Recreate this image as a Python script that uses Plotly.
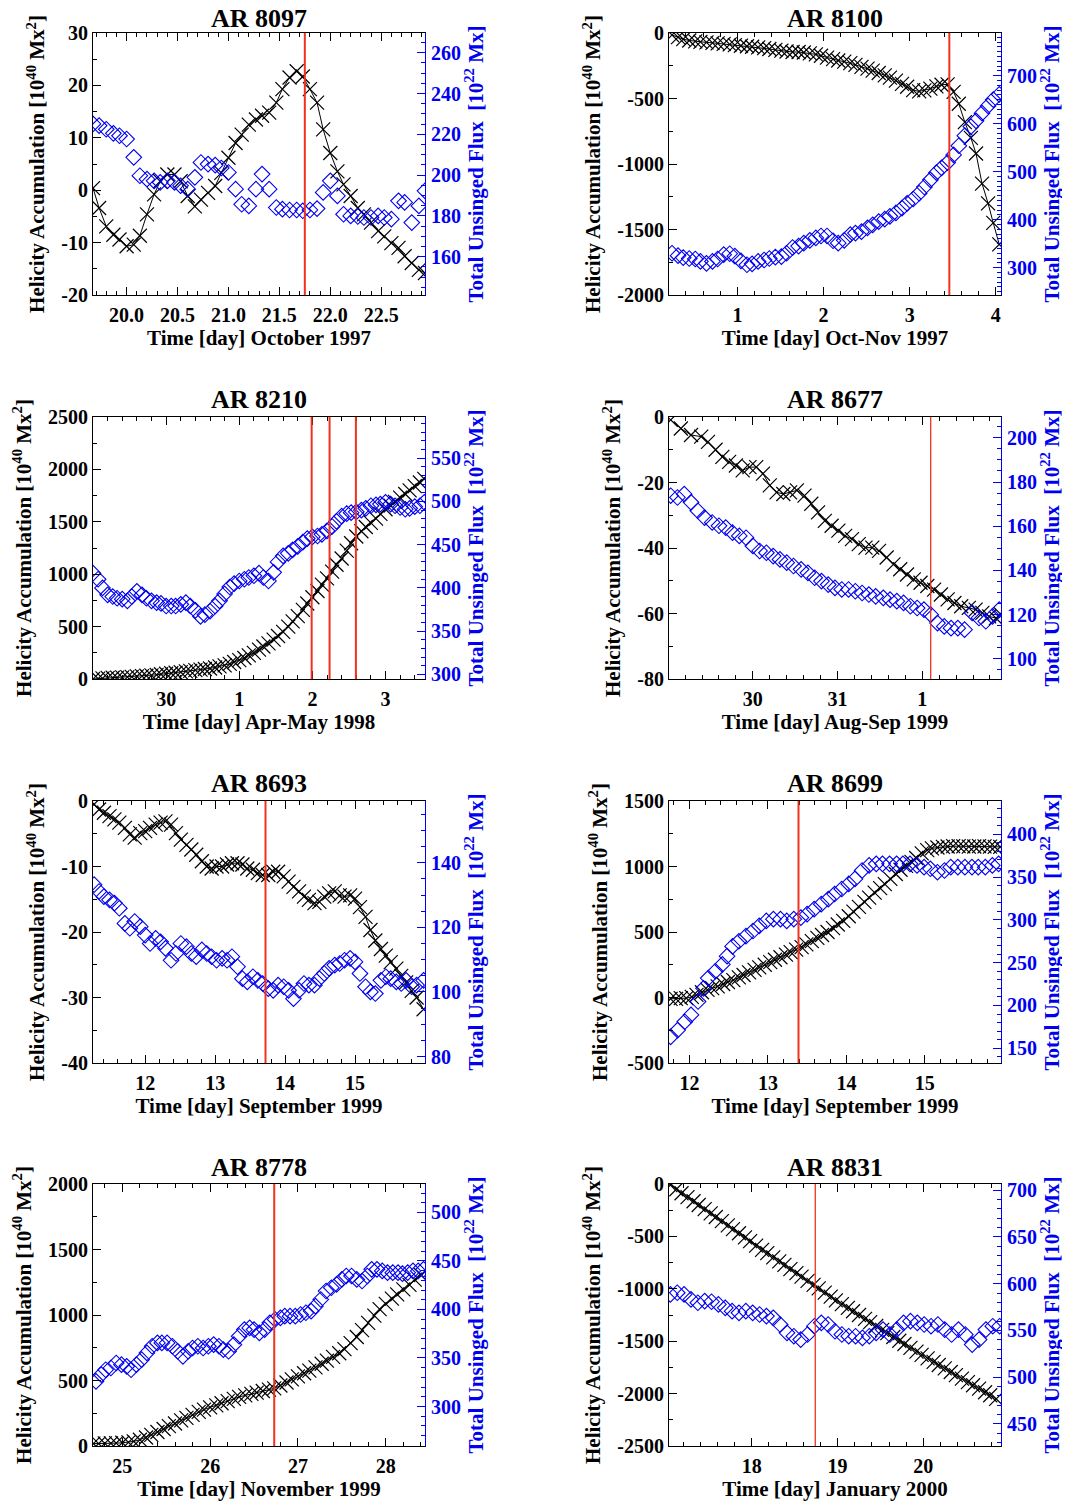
import plotly.graph_objects as go

# ---------------- data ----------------
# AR 8097  (October 1997)
t_8097 = [19.67, 19.73, 19.80, 19.87, 19.93,
          20.00, 20.07, 20.13, 20.20, 20.27, 20.33, 20.40, 20.47, 20.53, 20.60, 20.67, 20.73, 20.80, 20.87, 20.93,
          21.00, 21.07, 21.13, 21.20, 21.27, 21.33, 21.40, 21.47, 21.53, 21.60, 21.67, 21.73, 21.80, 21.87, 21.93,
          22.00, 22.07, 22.13, 22.20, 22.27, 22.33, 22.40, 22.47, 22.53, 22.60, 22.67, 22.73, 22.80, 22.87, 22.93]
h_8097 = [0.4, -3.4, -6.9, -8.5, -9.4,
          -10.7, -10.4, -8.7, -4.6, -0.8, 1.7, 3.0, 3.0, 1.7, -1.1, -3.1, -1.8, -0.5, 0.8, 3.3,
          6.2, 9.0, 10.6, 12.5, 13.5, 14.2, 14.8, 16.7, 19.3, 21.5, 22.7, 21.7, 19.3, 16.7, 11.6,
          7.1, 3.6, 1.1, -1.1, -3.4, -4.6, -6.2, -7.8, -8.8, -10.1, -11.0, -12.6, -13.9, -15.2, -15.8]
f_8097 = [225.1, 224.3, 222.5, 220.5, 219.3,
          217.7, 208.7, 199.7, 198.0, 197.2, 196.4, 197.2, 196.4, 194.8, 193.1, 198.9, 206.2, 205.4, 204.9, 203.5,
          201.3, 193.1, 185.7, 184.9, 193.1, 200.5, 193.1, 184.1, 183.3, 182.9, 182.9, 182.5, 182.9, 183.6, 191.5,
          197.2, 189.8, 180.8, 180.0, 179.7, 179.2, 179.2, 180.0, 179.2, 178.4, 187.4, 186.6, 176.7, 184.9, 192.3]
cme_8097 = [21.75]

# AR 8100  (Oct-Nov 1997)
t_8100 = [0.24, 0.31, 0.37, 0.44, 0.51, 0.57, 0.64, 0.71, 0.77, 0.84, 0.91, 0.97,
          1.04, 1.11, 1.17, 1.24, 1.31, 1.37, 1.44, 1.51, 1.57, 1.64, 1.71, 1.77, 1.84, 1.91, 1.97,
          2.04, 2.11, 2.17, 2.24, 2.31, 2.37, 2.44, 2.51, 2.57, 2.64, 2.71, 2.77, 2.84, 2.91, 2.97,
          3.04, 3.11, 3.17, 3.24, 3.31, 3.37, 3.44, 3.51, 3.57, 3.64, 3.71, 3.77, 3.84, 3.91, 3.97,
          4.04]
h_8100 = [-15, -32, -47, -57, -64, -68, -72, -75, -79, -83, -87, -92,
          -97, -101, -105, -110, -116, -122, -129, -135, -141, -145, -145, -149, -155, -163, -174,
          -188, -200, -210, -219, -230, -243, -258, -272, -287, -305, -323, -341, -363, -388, -410,
          -436, -446, -438, -425, -408, -395, -392, -450, -540, -680, -800, -920, -1150, -1300, -1450,
          -1614]
f_8100 = [330, 325, 321, 319, 318, 313, 309, 313, 318, 327, 329, 324,
          314, 306, 308, 313, 316, 319, 322, 323, 330, 342, 345, 351, 357, 362, 366,
          366, 356, 351, 357, 369, 372, 375, 383, 389, 396, 401, 407, 414, 424, 434,
          443, 455, 468, 483, 498, 508, 519, 535, 554, 575, 594, 606, 622, 637, 650,
          661]
cme_8100 = [3.46]

# AR 8210  (Apr-May 1998; 31 = May 1)
t_8210 = [29.00, 29.07, 29.13, 29.20, 29.27, 29.33, 29.40, 29.47, 29.53, 29.60, 29.67, 29.73, 29.80, 29.87, 29.93,
          30.00, 30.07, 30.13, 30.20, 30.27, 30.33, 30.40, 30.47, 30.53, 30.60, 30.67, 30.73, 30.80, 30.87, 30.93,
          31.00, 31.07, 31.13, 31.20, 31.27, 31.33, 31.40, 31.47, 31.53, 31.60, 31.67, 31.73, 31.80, 31.87, 31.93,
          32.00, 32.07, 32.13, 32.20, 32.27, 32.33, 32.40, 32.47, 32.53, 32.60, 32.67, 32.73, 32.80, 32.87, 32.93,
          33.00, 33.07, 33.13, 33.20, 33.27, 33.33, 33.40, 33.47, 33.53]
h_8210 = [0, 3, 6, 10, 12, 13, 15, 18, 21, 25, 28, 31, 35, 40, 45,
          50, 55, 60, 65, 72, 78, 85, 90, 95, 100, 110, 120, 130, 145, 162,
          180, 200, 225, 250, 280, 310, 340, 375, 410, 450, 500, 550, 600, 660, 720,
          780, 840, 900, 960, 1025, 1090, 1150, 1225, 1295, 1360, 1410, 1450, 1490, 1530, 1575,
          1620, 1655, 1690, 1730, 1765, 1800, 1840, 1875, 1910]
f_8210 = [417, 410, 400, 392, 390, 388, 387, 385, 390, 396, 392, 388, 385, 383, 382,
          379, 379, 379, 381, 383, 379, 374, 367, 369, 373, 379, 385, 393, 401, 405,
          408, 410, 412, 414, 417, 412, 408, 418, 430, 437, 440, 444, 448, 453, 457,
          459, 460, 462, 466, 471, 477, 483, 486, 487, 488, 490, 492, 495, 496, 497,
          499, 497, 495, 493, 491, 492, 494, 495, 499]
cme_8210 = [31.99, 32.235, 32.595]

# AR 8677  (Aug-Sep 1999; 32 = Sep 1)
th_8677 = [29.03, 29.15, 29.27, 29.39, 29.47, 29.56, 29.64, 29.72, 29.80, 29.88, 29.96, 30.04, 30.12, 30.20,
           30.28, 30.36, 30.44, 30.52, 30.61, 30.69, 30.77, 30.85, 30.93, 31.01, 31.09, 31.17, 31.25, 31.33,
           31.41, 31.49, 31.58, 31.66, 31.74, 31.82, 31.90, 31.98, 32.06, 32.14, 32.22, 32.30, 32.38, 32.46,
           32.55, 32.63, 32.71, 32.79, 32.87, 32.93]
h_8677 = [-0.9, -3.5, -5.5, -6.0, -7.6, -10.0, -12.2, -13.7, -14.8, -16.3, -15.3, -15.3, -17.3, -20.9,
          -23.0, -23.5, -23.0, -22.4, -24.0, -26.5, -29.1, -31.7, -33.2, -34.7, -36.3, -37.3, -38.8, -39.9,
          -39.9, -40.9, -42.9, -45.0, -46.5, -48.1, -49.6, -50.6, -51.6, -52.7, -54.2, -55.7, -56.8, -57.8,
          -58.3, -58.8, -59.8, -60.9, -61.4, -60.3]
tf_8677 = [29.03, 29.11, 29.19, 29.27, 29.35, 29.43, 29.52, 29.60, 29.68, 29.76, 29.84, 29.92, 30.00,
           30.08, 30.16, 30.24, 30.32, 30.40, 30.48, 30.57, 30.65, 30.73, 30.81, 30.89, 30.97, 31.05,
           31.13, 31.21, 31.29, 31.37, 31.45, 31.54, 31.62, 31.70, 31.78, 31.86, 31.94, 32.02, 32.10,
           32.18, 32.26, 32.34, 32.42, 32.50, 32.59, 32.67, 32.75, 32.83, 32.91]
f_8677 = [173.8, 173.0, 174.5, 170.8, 167.0, 163.9, 161.7, 160.2, 159.4, 157.1, 155.6, 154.8, 151.1,
          148.8, 148.0, 146.5, 145.0, 143.5, 142.0, 140.5, 138.9, 136.7, 135.2, 133.6, 132.1, 131.4,
          131.4, 130.6, 129.8, 129.1, 128.3, 127.6, 126.8, 126.1, 125.3, 123.8, 123.0, 122.3, 120.0,
          116.2, 114.7, 113.9, 113.9, 113.2, 120.8, 118.5, 117.0, 119.2, 122.3]
cme_8677 = [32.10]

# AR 8693  (September 1999)
t_8693 = [11.27, 11.34, 11.41, 11.49, 11.56, 11.63, 11.71, 11.78, 11.85, 11.93,
          12.00, 12.07, 12.15, 12.22, 12.29, 12.37, 12.44, 12.51, 12.59, 12.66,
          12.73, 12.81, 12.88, 12.95, 13.02, 13.10, 13.17, 13.24, 13.32, 13.39,
          13.46, 13.54, 13.61, 13.68, 13.76, 13.83, 13.90, 13.98, 14.05, 14.12,
          14.20, 14.27, 14.34, 14.42, 14.49, 14.56, 14.63, 14.71, 14.78, 14.85,
          14.93, 15.00, 15.07, 15.15, 15.22, 15.29, 15.37, 15.44, 15.51, 15.59,
          15.66, 15.73, 15.81, 15.88, 15.98]
h_8693 = [-0.5, -1.3, -1.8, -2.3, -2.8, -3.3, -4.1, -5.1, -5.6, -4.9,
          -4.6, -4.1, -3.6, -3.3, -3.1, -3.6, -4.9, -5.9, -6.7, -7.4,
          -8.2, -9.2, -10.0, -10.3, -10.0, -10.0, -9.7, -9.5, -9.5, -9.7,
          -10.3, -10.5, -11.0, -11.3, -11.3, -10.8, -10.8, -11.5, -12.3, -13.1,
          -13.8, -14.6, -15.1, -15.6, -15.4, -14.6, -14.1, -13.8, -14.4, -14.6,
          -14.4, -14.9, -16.2, -17.7, -19.7, -21.3, -22.6, -23.6, -24.6, -25.6,
          -26.7, -27.7, -29.0, -30.0, -31.8]
f_8693 = [133.2, 131.1, 129.5, 128.5, 127.5, 125.9, 121.2, 119.7, 121.8, 120.2,
          117.6, 115.0, 116.6, 115.5, 113.5, 109.8, 111.9, 115.0, 114.0, 111.9,
          110.9, 113.0, 111.9, 110.9, 109.8, 110.4, 109.8, 110.9, 107.8, 104.1,
          103.1, 104.7, 103.6, 102.6, 101.0, 100.5, 102.1, 101.6, 100.5, 97.9,
          100.5, 102.6, 102.1, 102.1, 104.1, 105.7, 107.3, 108.3, 108.8, 109.8,
          110.4, 109.3, 105.7, 101.6, 100.0, 99.5, 103.6, 104.7, 104.1, 103.1,
          102.6, 103.6, 101.6, 102.1, 103.6]
cme_8693 = [13.72]

# AR 8699  (September 1999)
th_8699 = [11.76, 11.83, 11.89, 11.96,
           12.03, 12.09, 12.16, 12.23, 12.29, 12.36, 12.43, 12.49, 12.56, 12.63, 12.69, 12.76, 12.83, 12.89, 12.96,
           13.03, 13.09, 13.16, 13.23, 13.29, 13.36, 13.43, 13.49, 13.56, 13.63, 13.69, 13.76, 13.83, 13.89, 13.96,
           14.03, 14.09, 14.16, 14.23, 14.29, 14.36, 14.43, 14.49, 14.56, 14.63, 14.69, 14.76, 14.83, 14.89, 14.96,
           15.03, 15.09, 15.16, 15.23, 15.29, 15.36, 15.43, 15.49, 15.56, 15.63, 15.69, 15.76, 15.83, 15.89, 15.96]
h_8699 = [-10, -10, -5, -5,
          5, 20, 40, 58, 72, 85, 103, 118, 133, 154, 172, 192, 211, 230, 250,
          270, 288, 307, 327, 346, 365, 385, 405, 430, 455, 477, 500, 530, 557, 585,
          620, 655, 692, 730, 763, 800, 835, 865, 905, 943, 975, 1005, 1035, 1065, 1100,
          1125, 1138, 1145, 1150, 1153, 1155, 1155, 1154, 1152, 1153, 1155, 1154, 1152, 1150, 1150]
tf_8699 = [11.76, 11.85, 11.94, 12.02, 12.11, 12.18, 12.24, 12.33, 12.42, 12.48,
           12.55, 12.63, 12.72, 12.81, 12.89, 12.98, 13.07, 13.16, 13.24, 13.33,
           13.42, 13.50, 13.59, 13.68, 13.77, 13.85, 13.94, 14.03, 14.11, 14.20,
           14.29, 14.38, 14.46, 14.55, 14.64, 14.72, 14.81, 14.90, 14.99, 15.07,
           15.16, 15.25, 15.33, 15.42, 15.51, 15.60, 15.68, 15.77, 15.86, 15.94]
f_8699 = [163.4, 171.3, 181.0, 189.0, 204.6, 220.0, 232.0, 240.0, 248.0, 257.6,
          269.0, 275.0, 281.0, 287.0, 293.0, 298.8, 300.8, 300.8, 298.8, 300.8,
          302.7, 306.7, 312.6, 318.4, 324.3, 330.2, 336.1, 342.0, 347.9, 357.7,
          363.6, 365.5, 365.5, 365.5, 365.5, 365.5, 365.5, 363.6, 361.6, 359.7,
          355.7, 357.7, 361.6, 361.6, 361.6, 361.6, 361.6, 361.6, 363.6, 365.5]
cme_8699 = [13.39]

# AR 8778  (November 1999)
th_8778 = [24.67, 24.73, 24.80, 24.87, 24.93,
           25.00, 25.07, 25.13, 25.20, 25.27, 25.33, 25.40, 25.47, 25.53, 25.60, 25.67, 25.73, 25.80, 25.87, 25.93,
           26.00, 26.07, 26.13, 26.20, 26.27, 26.33, 26.40, 26.47, 26.53, 26.60, 26.67, 26.73, 26.80, 26.87, 26.93,
           27.00, 27.07, 27.13, 27.20, 27.27, 27.33, 27.40, 27.47, 27.53, 27.60, 27.67, 27.73, 27.80, 27.87, 27.93,
           28.00, 28.07, 28.13, 28.20, 28.27, 28.33, 28.40]
h_8778 = [18, 18, 20, 20, 22,
          25, 28, 35, 48, 65, 85, 107, 130, 152, 172, 195, 215, 238, 260, 278,
          295, 310, 326, 343, 360, 375, 386, 398, 408, 420, 430, 440, 462, 485, 508,
          532, 555, 575, 600, 628, 652, 680, 708, 740, 785, 832, 885, 940, 995, 1045,
          1085, 1125, 1158, 1195, 1230, 1270, 1305]
tf_8778 = [24.70, 24.76, 24.81, 24.87, 24.93, 24.99, 25.05, 25.10, 25.16, 25.22,
           25.28, 25.34, 25.40, 25.45, 25.51, 25.57, 25.63, 25.69, 25.75, 25.80,
           25.86, 25.92, 25.98, 26.04, 26.10, 26.15, 26.21, 26.27, 26.33, 26.39,
           26.45, 26.50, 26.56, 26.62, 26.68, 26.74, 26.80, 26.85, 26.91, 26.97,
           27.03, 27.09, 27.15, 27.20, 27.26, 27.32, 27.38, 27.44, 27.50, 27.55,
           27.61, 27.67, 27.73, 27.79, 27.84, 27.90, 27.96, 28.02, 28.08, 28.14,
           28.19, 28.25, 28.31, 28.37, 28.43]
f_8778 = [325.9, 332.8, 337.9, 339.7, 344.8, 343.1, 341.4, 337.9, 343.1, 348.3,
          355.2, 362.1, 365.5, 365.5, 365.5, 362.1, 356.9, 351.7, 356.9, 360.3,
          362.1, 360.3, 362.1, 363.8, 362.1, 358.6, 356.9, 363.8, 372.4, 379.3,
          381.0, 379.3, 375.9, 379.3, 386.2, 389.7, 391.4, 393.1, 393.1, 393.1,
          394.8, 396.6, 398.3, 403.4, 410.3, 419.0, 422.4, 425.9, 431.0, 434.5,
          434.5, 431.0, 429.3, 434.5, 441.4, 441.4, 439.7, 437.9, 437.9, 437.9,
          436.9, 437.9, 439.7, 439.7, 441.4]
cme_8778 = [26.73]

# AR 8831  (January 2000)
th_8831 = [17.05, 17.12, 17.18, 17.25, 17.32, 17.38, 17.45, 17.52, 17.58, 17.65, 17.72, 17.78, 17.85, 17.92, 17.98,
           18.05, 18.12, 18.18, 18.25, 18.32, 18.38, 18.45, 18.52, 18.58, 18.65, 18.72, 18.78, 18.85, 18.92, 18.98,
           19.05, 19.12, 19.18, 19.25, 19.32, 19.38, 19.45, 19.52, 19.58, 19.65, 19.72, 19.78, 19.85, 19.92, 19.98,
           20.05, 20.12, 20.18, 20.25, 20.32, 20.38, 20.45, 20.52, 20.58, 20.65, 20.72, 20.78, 20.85]
h_8831 = [-10, -50, -88, -125, -165, -200, -240, -280, -315, -355, -395, -430, -470, -510, -545,
          -588, -628, -660, -700, -738, -772, -812, -850, -884, -924, -962, -996, -1036, -1075, -1110,
          -1146, -1182, -1214, -1250, -1287, -1318, -1355, -1392, -1423, -1460, -1496, -1527, -1563, -1600, -1630,
          -1664, -1698, -1727, -1760, -1794, -1823, -1857, -1890, -1920, -1953, -1987, -2016, -2050]
tf_8831 = [17.05, 17.13, 17.21, 17.29, 17.37, 17.45, 17.53, 17.61, 17.69, 17.77,
           17.85, 17.93, 18.01, 18.09, 18.17, 18.25, 18.33, 18.41, 18.49, 18.57,
           18.65, 18.73, 18.81, 18.89, 18.97, 19.05, 19.13, 19.21, 19.29, 19.37,
           19.45, 19.53, 19.61, 19.69, 19.77, 19.85, 19.93, 20.01, 20.09, 20.17,
           20.25, 20.33, 20.41, 20.49, 20.57, 20.65, 20.73, 20.81, 20.89]
f_8831 = [588.5, 590.3, 588.5, 583.2, 579.6, 581.4, 580.7, 577.8, 574.2, 570.6,
          568.8, 570.6, 568.8, 567.0, 565.3, 563.5, 556.3, 547.4, 543.8, 540.2,
          545.6, 554.5, 558.1, 556.3, 549.1, 545.6, 543.8, 543.8, 542.0, 543.8,
          547.4, 550.9, 545.6, 550.9, 558.1, 559.9, 558.1, 556.3, 554.5, 556.3,
          550.9, 545.6, 550.9, 545.6, 534.8, 540.2, 550.9, 554.5, 554.5]
cme_8831 = [18.74]

titles = ["AR 8097", "AR 8100", "AR 8210", "AR 8677", "AR 8693", "AR 8699", "AR 8778", "AR 8831"]
xtitles = ["Time [day] October 1997", "Time [day] Oct-Nov 1997", "Time [day] Apr-May 1998",
           "Time [day] Aug-Sep 1999", "Time [day] September 1999", "Time [day] September 1999",
           "Time [day] November 1999", "Time [day] January 2000"]
x_tickvals = [[20.0, 20.5, 21.0, 21.5, 22.0, 22.5], [1, 2, 3, 4], [30, 31, 32, 33], [30, 31, 32],
              [12, 13, 14, 15], [12, 13, 14, 15], [25, 26, 27, 28], [18, 19, 20]]
x_ticktext = [["20.0", "20.5", "21.0", "21.5", "22.0", "22.5"], ["1", "2", "3", "4"], ["30", "1", "2", "3"],
              ["30", "31", "1"], ["12", "13", "14", "15"], ["12", "13", "14", "15"], ["25", "26", "27", "28"],
              ["18", "19", "20"]]
yl_tickvals = [[-20, -10, 0, 10, 20, 30], [-2000, -1500, -1000, -500, 0], [0, 500, 1000, 1500, 2000, 2500],
               [-80, -60, -40, -20, 0], [-40, -30, -20, -10, 0], [-500, 0, 500, 1000, 1500],
               [0, 500, 1000, 1500, 2000], [-2500, -2000, -1500, -1000, -500, 0]]
yr_tickvals = [[160, 180, 200, 220, 240, 260], [300, 400, 500, 600, 700], [300, 350, 400, 450, 500, 550],
               [100, 120, 140, 160, 180, 200], [80, 100, 120, 140], [150, 200, 250, 300, 350, 400],
               [300, 350, 400, 450, 500], [450, 500, 550, 600, 650, 700]]

# ---------------- axis setup (ranges / minor tick steps) ----------------
x_ranges = [[19.67, 22.93], [0.205, 4.06], [29.0, 33.54], [29.01, 32.93],
            [11.254, 16.0], [11.74, 15.97], [24.666, 28.447], [17.034, 20.906]]
x_minor = [0.1, 0.2, 0.2, 0.2, 0.2, 0.2, 0.2, 0.2]
yl_ranges = [[-20, 30], [-2000, 0], [0, 2500], [-80, 0], [-40, 0], [-500, 1500], [0, 2000], [-2500, 0]]
yl_minor = [5, 250, 250, 10, 5, 250, 250, 250]
yr_ranges = [[141.2, 269.7], [243, 789], [294.6, 597.7], [90.9, 209.4], [78.0, 159.1], [132.8, 438.9],
             [259.3, 529.3], [426.3, 706.7]]
yr_minor = [5, 10, 10, 5, 5, 10, 10, 10]
red_width = [2, 2, 2, 1.3, 2, 2, 2, 1.3]

series = [
    (t_8097, h_8097, t_8097, f_8097, cme_8097),
    (t_8100, h_8100, t_8100, f_8100, cme_8100),
    (t_8210, h_8210, t_8210, f_8210, cme_8210),
    (th_8677, h_8677, tf_8677, f_8677, cme_8677),
    (t_8693, h_8693, t_8693, f_8693, cme_8693),
    (th_8699, h_8699, tf_8699, f_8699, cme_8699),
    (th_8778, h_8778, tf_8778, f_8778, cme_8778),
    (th_8831, h_8831, tf_8831, f_8831, cme_8831),
]

# page body adds an 8px margin, so the figure is sized / positioned to compensate
OFF = 8
W, H = 1070 - OFF, 1504 - OFF
FONT = "Liberation Serif"
BLUE = "#0000f0"
RED = "#f0321e"
XDOM = [[(93 - OFF) / W, (425 - OFF) / W], [(669 - OFF) / W, (1001 - OFF) / W]]
ROW_TOP = [33, 417, 801, 1184]
TITLE_Y = [19, 399, 783, 1167]
PLOT_H = 262


def sfx(n):
    return "" if n == 1 else str(n)


fig = go.Figure()
layout = dict(width=W, height=H, margin=dict(l=0, r=0, t=0, b=0), template="none",
              paper_bgcolor="white", plot_bgcolor="white", showlegend=False,
              font=dict(family=FONT, size=20, color="black"))
annotations = []
shapes = []

tickfont_k = dict(family=FONT, size=20, color="black", weight="bold")
tickfont_b = dict(family=FONT, size=20, color=BLUE, weight="bold")
titlefont_k = dict(family=FONT, size=21, color="black", weight="bold")
titlefont_b = dict(family=FONT, size=21, color=BLUE, weight="bold")

for i in range(8):
    n = i + 1
    r, c = divmod(i, 2)
    xd = XDOM[c]
    top = ROW_TOP[r] - OFF
    yd = [1 - (top + PLOT_H) / H, 1 - top / H]
    th, hv, tf, fv, cme = series[i]
    xs, ys, y2s = sfx(n), sfx(n), sfx(n + 8)

    fig.add_trace(go.Scatter(
        x=th, y=hv, mode="lines+markers", xaxis="x" + xs, yaxis="y" + ys,
        line=dict(color="black", width=1),
        marker=dict(symbol="x-thin", size=14, color="black", line=dict(color="black", width=1.2)),
        hoverinfo="skip"))
    fig.add_trace(go.Scatter(
        x=tf, y=fv, mode="markers", xaxis="x" + xs, yaxis="y" + y2s,
        marker=dict(symbol="diamond-open", size=12, color=BLUE, line=dict(color=BLUE, width=1.1)),
        hoverinfo="skip"))

    layout["xaxis" + xs] = dict(
        domain=xd, anchor="y" + ys, range=x_ranges[i],
        tickmode="array", tickvals=x_tickvals[i], ticktext=x_ticktext[i],
        ticks="inside", ticklen=8, tickwidth=1, tickcolor="black",
        minor=dict(ticks="inside", ticklen=4, tickwidth=1, tickcolor="black", dtick=x_minor[i], tick0=0,
                   showgrid=False),
        showline=True, linecolor="black", linewidth=1, mirror="ticks",
        showgrid=False, zeroline=False, tickfont=tickfont_k, ticklabelstandoff=2,
        title=dict(text=xtitles[i], font=titlefont_k, standoff=1), automargin=False)
    layout["yaxis" + ys] = dict(
        domain=yd, anchor="x" + xs, range=yl_ranges[i],
        tickmode="array", tickvals=yl_tickvals[i], ticktext=[str(v) for v in yl_tickvals[i]],
        ticks="inside", ticklen=8, tickwidth=1, tickcolor="black",
        minor=dict(ticks="inside", ticklen=4, tickwidth=1, tickcolor="black", dtick=yl_minor[i], tick0=0,
                   showgrid=False),
        showline=True, linecolor="black", linewidth=1, mirror=False,
        showgrid=False, zeroline=False, tickfont=tickfont_k, ticklabelstandoff=0,
        title=dict(text="Helicity Accumulation [10<sup>40</sup> Mx<sup>2</sup>]", font=titlefont_k, standoff=10),
        automargin=False)
    layout["yaxis" + y2s] = dict(
        overlaying="y" + ys, anchor="x" + xs, side="right", range=yr_ranges[i],
        tickmode="array", tickvals=yr_tickvals[i], ticktext=[str(v) for v in yr_tickvals[i]],
        ticks="inside", ticklen=8, tickwidth=1, tickcolor=BLUE,
        minor=dict(ticks="inside", ticklen=4, tickwidth=1, tickcolor=BLUE, dtick=yr_minor[i], tick0=0,
                   showgrid=False),
        showline=True, linecolor=BLUE, linewidth=1,
        showgrid=False, zeroline=False, tickfont=tickfont_b, ticklabelstandoff=1,
        title=dict(text="Total Unsinged Flux  [10<sup>22</sup> Mx]", font=titlefont_b, standoff=0),
        automargin=False)

    annotations.append(dict(text=titles[i], xref="paper", yref="paper",
                            x=(xd[0] + xd[1]) / 2, y=1 - (TITLE_Y[r] - OFF) / H,
                            xanchor="center", yanchor="middle", showarrow=False,
                            font=dict(family=FONT, size=26, color="black", weight="bold")))
    for tc in cme:
        shapes.append(dict(type="line", xref="x" + xs, yref="y" + ys + " domain", x0=tc, x1=tc, y0=0, y1=1,
                           line=dict(color=RED, width=red_width[i])))

layout["annotations"] = annotations
layout["shapes"] = shapes
fig.update_layout(**layout)
fig.write_html("out.html")
